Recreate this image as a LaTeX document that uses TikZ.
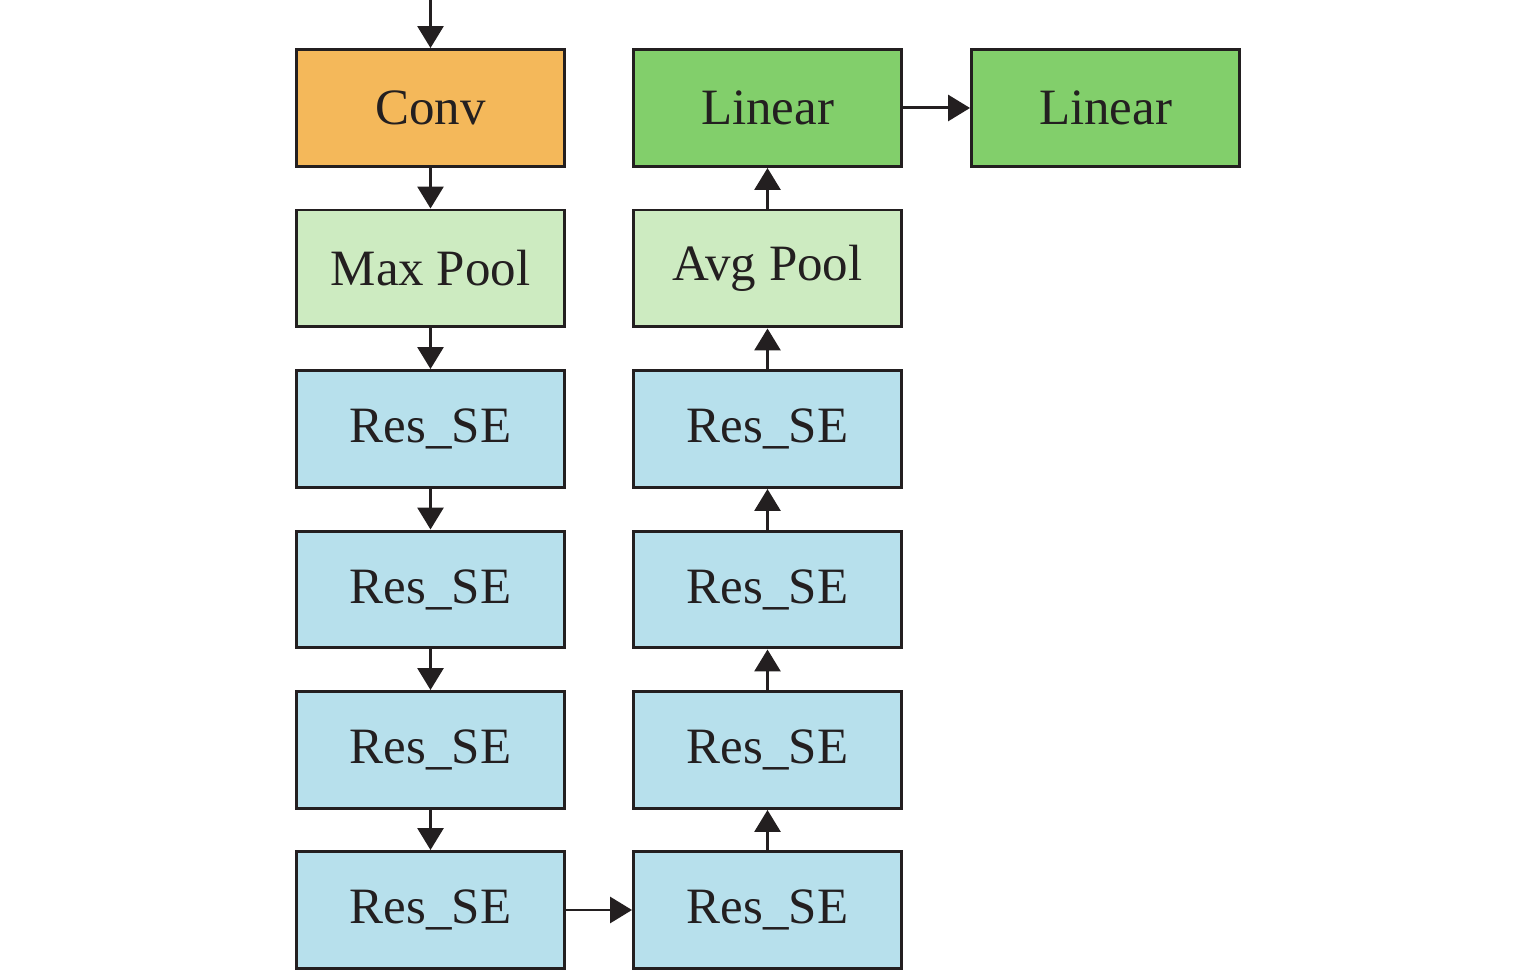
\documentclass[tikz,border=0pt]{standalone}
\usepackage{fontspec}
\setmainfont{Liberation Serif}
\usetikzlibrary{arrows.meta}
\definecolor{convc}{HTML}{F4B85A}
\definecolor{poolc}{HTML}{CDEBC1}
\definecolor{resc}{HTML}{B7E0EC}
\definecolor{linc}{HTML}{82CF6B}
\definecolor{ink}{HTML}{231F20}
\tikzset{
  blk/.style={draw=ink, line width=1.7pt, minimum width=5.36cm, minimum height=2.34cm, inner sep=0pt, font=\fontsize{29}{34}\selectfont, text=ink},
  conn/.style={draw=ink, line width=1.7pt, -{Triangle[length=0.44cm,width=0.52cm]}}
}
\begin{document}
\begin{tikzpicture}[x=0.02cm,y=-0.02cm]
\useasboundingbox (0,0) rectangle (1535,972);
\node[blk, fill=convc] (conv) at (430.5,108) {Conv};
\node[blk, fill=poolc] (maxp) at (430.5,268.5) {Max Pool};
\node[blk, fill=resc] (r1) at (430.5,429) {Res\_SE};
\node[blk, fill=resc] (r2) at (430.5,589.5) {Res\_SE};
\node[blk, fill=resc] (r3) at (430.5,750) {Res\_SE};
\node[blk, fill=resc] (r4) at (430.5,910) {Res\_SE};
\node[blk, fill=resc] (r5) at (767.5,910) {Res\_SE};
\node[blk, fill=resc] (r6) at (767.5,750) {Res\_SE};
\node[blk, fill=resc] (r7) at (767.5,589.5) {Res\_SE};
\node[blk, fill=resc] (r8) at (767.5,429) {Res\_SE};
\node[blk, fill=poolc] (avgp) at (767.5,268.5) {Avg Pool};
\node[blk, fill=linc] (lin1) at (767.5,108) {Linear};
\node[blk, fill=linc] (lin2) at (1105.5,108) {Linear};
\coordinate (in) at (430.5,0);
\draw[conn] (in) -- (conv);
\draw[conn] (conv) -- (maxp);
\draw[conn] (maxp) -- (r1);
\draw[conn] (r1) -- (r2);
\draw[conn] (r2) -- (r3);
\draw[conn] (r3) -- (r4);
\draw[conn] (r4) -- (r5);
\draw[conn] (r5) -- (r6);
\draw[conn] (r6) -- (r7);
\draw[conn] (r7) -- (r8);
\draw[conn] (r8) -- (avgp);
\draw[conn] (avgp) -- (lin1);
\draw[conn] (lin1) -- (lin2);
\end{tikzpicture}
\end{document}
